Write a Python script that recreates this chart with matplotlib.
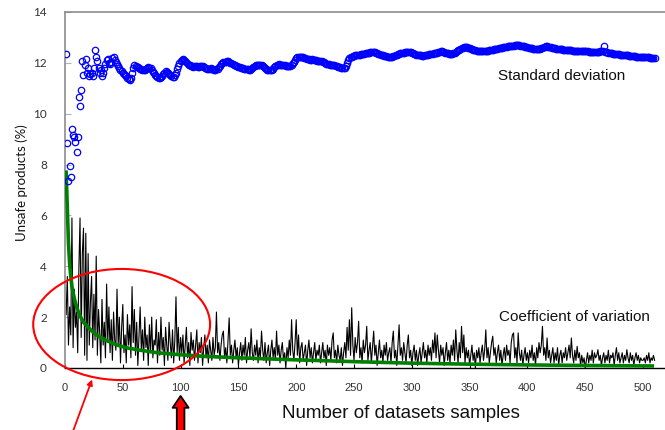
import numpy as np

import matplotlib
matplotlib.use("Agg")
import matplotlib.pyplot as plt
from matplotlib.patches import Ellipse

# sample index of every point
samples = np.arange(1, 511)

# standard deviation of unsafe products (%), one value per sample
std_dev = [
    12.36, 8.83, 7.35, 7.93, 7.53, 9.40, 9.17, 9.10, 8.87, 8.50,
    9.10, 10.64, 10.29, 10.94, 12.06, 11.52, 11.90, 12.15, 11.60, 11.80,
    11.50, 11.55, 11.62, 11.50, 11.80, 12.50, 12.25, 12.06, 11.80, 11.62,
    11.70, 11.50, 11.62, 11.80, 11.95, 12.10, 12.15, 12.00, 11.95, 12.05,
    12.18, 12.23, 12.10, 12.05, 11.95, 11.86, 11.80, 11.72, 11.67, 11.62,
    11.58, 11.54, 11.48, 11.42, 11.38, 11.34, 11.40, 11.60, 11.80, 11.93,
    11.88, 11.85, 11.82, 11.80, 11.76, 11.74, 11.72, 11.70, 11.72, 11.76,
    11.80, 11.82, 11.80, 11.78, 11.72, 11.66, 11.60, 11.54, 11.50, 11.46,
    11.42, 11.40, 11.44, 11.50, 11.56, 11.62, 11.67, 11.64, 11.60, 11.56,
    11.52, 11.48, 11.44, 11.46, 11.52, 11.62, 11.75, 11.88, 11.98, 12.06,
    12.10, 12.14, 12.12, 12.08, 12.02, 11.96, 11.92, 11.90, 11.88, 11.86,
    11.84, 11.86, 11.88, 11.87, 11.85, 11.84, 11.86, 11.88, 11.86, 11.82,
    11.80, 11.78, 11.76, 11.75, 11.76, 11.78, 11.76, 11.74, 11.73, 11.73,
    11.74, 11.77, 11.82, 11.88, 11.94, 11.99, 12.02, 12.04, 12.05, 12.06,
    12.06, 12.04, 12.01, 11.98, 11.95, 11.92, 11.90, 11.88, 11.86, 11.84,
    11.82, 11.80, 11.79, 11.78, 11.77, 11.76, 11.75, 11.74, 11.73, 11.73,
    11.76, 11.80, 11.84, 11.88, 11.91, 11.93, 11.93, 11.93, 11.93, 11.91,
    11.88, 11.84, 11.80, 11.76, 11.73, 11.71, 11.70, 11.70, 11.72, 11.76,
    11.82, 11.86, 11.90, 11.93, 11.94, 11.93, 11.92, 11.93, 11.92, 11.90,
    11.88, 11.86, 11.86, 11.86, 11.87, 11.92, 11.98, 12.05, 12.12, 12.18,
    12.22, 12.24, 12.25, 12.25, 12.24, 12.22, 12.20, 12.18, 12.16, 12.15,
    12.14, 12.13, 12.13, 12.14, 12.13, 12.12, 12.10, 12.09, 12.08, 12.07,
    12.06, 12.06, 12.05, 12.02, 11.99, 11.97, 11.95, 11.94, 11.93, 11.93,
    11.93, 11.92, 11.90, 11.88, 11.86, 11.84, 11.83, 11.82, 11.81, 11.80,
    11.80, 11.80, 11.86, 11.98, 12.10, 12.18, 12.23, 12.25, 12.27, 12.28,
    12.29, 12.30, 12.31, 12.32, 12.32, 12.33, 12.34, 12.35, 12.36, 12.37,
    12.38, 12.39, 12.40, 12.41, 12.41, 12.41, 12.41, 12.41, 12.40, 12.38,
    12.36, 12.34, 12.32, 12.30, 12.29, 12.28, 12.27, 12.26, 12.25, 12.25,
    12.25, 12.25, 12.25, 12.26, 12.28, 12.30, 12.32, 12.34, 12.36, 12.37,
    12.38, 12.39, 12.40, 12.41, 12.42, 12.43, 12.43, 12.43, 12.42, 12.40,
    12.38, 12.36, 12.34, 12.32, 12.31, 12.30, 12.30, 12.29, 12.28, 12.28,
    12.29, 12.30, 12.31, 12.32, 12.33, 12.34, 12.35, 12.36, 12.37, 12.38,
    12.39, 12.40, 12.41, 12.43, 12.45, 12.45, 12.44, 12.42, 12.40, 12.38,
    12.37, 12.36, 12.35, 12.35, 12.36, 12.38, 12.40, 12.43, 12.46, 12.49,
    12.52, 12.55, 12.58, 12.60, 12.61, 12.62, 12.62, 12.61, 12.60, 12.58,
    12.56, 12.54, 12.52, 12.50, 12.49, 12.48, 12.47, 12.46, 12.46, 12.45,
    12.45, 12.45, 12.45, 12.46, 12.47, 12.48, 12.49, 12.50, 12.51, 12.52,
    12.53, 12.54, 12.55, 12.56, 12.57, 12.58, 12.59, 12.60, 12.61, 12.62,
    12.63, 12.64, 12.65, 12.66, 12.67, 12.67, 12.68, 12.68, 12.69, 12.69,
    12.69, 12.69, 12.69, 12.68, 12.67, 12.66, 12.65, 12.64, 12.62, 12.61,
    12.60, 12.59, 12.58, 12.57, 12.56, 12.56, 12.55, 12.55, 12.55, 12.55,
    12.56, 12.58, 12.60, 12.62, 12.64, 12.65, 12.65, 12.64, 12.62, 12.61,
    12.60, 12.59, 12.58, 12.57, 12.56, 12.55, 12.54, 12.54, 12.53, 12.53,
    12.52, 12.52, 12.52, 12.52, 12.51, 12.50, 12.50, 12.49, 12.48, 12.48,
    12.47, 12.47, 12.46, 12.46, 12.46, 12.45, 12.45, 12.45, 12.45, 12.45,
    12.45, 12.45, 12.44, 12.44, 12.44, 12.44, 12.44, 12.43, 12.43, 12.43,
    12.43, 12.44, 12.45, 12.46, 12.48, 12.65, 12.43, 12.42, 12.41, 12.40,
    12.39, 12.38, 12.37, 12.36, 12.35, 12.34, 12.34, 12.33, 12.33, 12.32,
    12.32, 12.31, 12.31, 12.30, 12.30, 12.29, 12.29, 12.28, 12.28, 12.27,
    12.27, 12.26, 12.26, 12.25, 12.25, 12.25, 12.24, 12.24, 12.24, 12.23,
    12.23, 12.23, 12.22, 12.22, 12.22, 12.21, 12.21, 12.21, 12.20, 12.20,
]

# coefficient of variation (%), one value per sample
coef_var = [
    2.1, 3.6, 0.9, 2.4, 1.3, 5.9, 0.8, 3.1, 1.6, 2.2,
    0.6, 3.9, 5.9, 1.2, 4.5, 5.5, 0.5, 5.3, 0.3, 4.5,
    0.9, 2.6, 3.6, 0.8, 2.9, 1.1, 4.4, 0.5, 2.3, 1.4,
    0.2, 2.7, 0.9, 1.8, 0.4, 3.3, 1.0, 2.4, 0.6, 1.9,
    0.3, 2.2, 1.1, 0.7, 3.1, 0.9, 2.0, 0.2, 1.6, 2.5,
    0.6, 1.3, 0.2, 2.1, 0.9, 1.7, 0.4, 3.2, 1.0, 2.3,
    0.5, 1.8, 0.1, 1.2, 2.4, 0.7, 1.5, 0.3, 2.0, 0.8,
    1.3, 0.1, 1.7, 0.6, 2.0, 0.4, 1.1, 0.9, 1.9, 0.2,
    1.4, 0.5, 2.0, 0.7, 1.2, 0.1, 1.6, 0.9, 0.3, 1.8,
    1.0, 0.4, 1.5, 0.2, 1.1, 2.8, 0.6, 1.6, 0.3, 1.2,
    0.6, 1.3, 0.2, 0.9, 1.6, 0.4, 1.0, 0.1, 1.4, 0.7,
    1.1, 0.3, 0.9, 1.5, 0.2, 1.0, 0.6, 1.2, 0.1, 0.8,
    1.3, 0.4, 0.9, 0.2, 1.1, 0.7, 0.3, 1.2, 0.5, 0.8,
    2.2, 0.6, 1.0, 0.3, 0.9, 1.3, 1.45, 0.4, 0.8, 0.2,
    1.1, 1.97, 0.5, 0.9, 0.2, 0.7, 1.1, 0.4, 0.8, 0.1,
    0.6, 1.0, 0.3, 0.9, 0.5, 1.2, 0.2, 0.7, 1.0, 0.4,
    1.54, 0.6, 0.3, 0.9, 0.5, 1.1, 0.2, 0.8, 0.4, 1.45,
    0.7, 0.3, 1.0, 0.2, 0.6, 0.9, 0.1, 0.7, 1.1, 0.4,
    0.8, 0.3, 1.45, 0.5, 0.9, 0.2, 0.7, 1.0, 0.3, 0.6,
    0.0, 0.8, 0.4, 1.1, 0.5, 1.9, 0.7, 0.3, 1.0, 1.9,
    0.5, 1.3, 0.2, 0.8, 1.0, 0.3, 0.6, 0.9, 0.1, 0.7,
    1.1, 0.4, 0.8, 0.2, 0.6, 1.0, 0.3, 0.7, 0.5, 0.9,
    0.2, 0.6, 1.0, 0.4, 0.7, 0.1, 0.9, 0.5, 0.8, 0.3,
    1.1, 1.38, 0.4, 0.7, 0.2, 0.9, 0.5, 0.3, 0.8, 0.1,
    0.6, 1.0, 0.4, 1.6, 0.7, 1.9, 0.5, 2.37, 0.9, 0.3,
    1.2, 0.6, 1.0, 1.84, 0.4, 0.8, 0.2, 1.1, 0.6, 0.9,
    1.64, 0.3, 0.7, 1.0, 0.2, 0.8, 1.45, 0.5, 0.9, 0.1,
    0.6, 1.1, 0.4, 0.7, 0.2, 0.9, 0.5, 1.0, 0.3, 0.6,
    0.8, 0.2, 1.0, 1.45, 0.4, 0.7, 0.1, 0.9, 1.7, 0.5,
    0.8, 0.3, 1.0, 0.6, 0.2, 0.9, 1.3, 0.4, 0.7, 0.1,
    0.6, 0.9, 0.3, 0.7, 0.1, 0.5, 0.8, 0.2, 0.6, 1.0,
    0.4, 0.7, 0.2, 0.9, 0.5, 0.8, 0.3, 1.1, 0.6, 1.38,
    0.4, 1.3, 0.7, 0.2, 0.9, 0.5, 0.8, 0.1, 0.6, 1.0,
    0.3, 0.7, 0.2, 0.9, 0.5, 1.1, 0.3, 1.5, 0.7, 0.2,
    1.0, 0.4, 1.64, 0.6, 1.3, 0.2, 0.8, 0.4, 0.7, 0.1,
    0.5, 0.9, 0.3, 0.6, 0.0, 0.7, 0.4, 0.8, 0.2, 0.6,
    0.9, 0.3, 0.7, 1.5, 0.4, 0.8, 0.2, 0.6, 1.0, 1.25,
    0.5, 0.8, 0.2, 0.6, 0.9, 0.3, 0.7, 0.1, 0.5, 0.8,
    0.3, 0.9, 0.5, 0.7, 0.2, 1.0, 1.3, 1.38, 0.4, 0.8,
    0.2, 1.38, 0.6, 0.3, 0.7, 0.1, 0.5, 0.8, 0.3, 0.6,
    0.2, 0.7, 0.4, 0.9, 0.3, 0.6, 0.1, 0.8, 0.4, 1.0,
    0.6, 0.9, 1.64, 0.5, 0.8, 0.3, 1.18, 0.4, 0.7, 0.2,
    0.5, 0.8, 0.2, 0.6, 0.3, 0.8, 0.1, 0.5, 0.7, 0.2,
    0.6, 0.4, 0.8, 0.3, 0.6, 0.9, 0.4, 1.18, 0.5, 0.2,
    0.7, 0.3, 0.85, 0.4, 0.6, 0.1, 0.5, 0.2, 0.4, 0.0,
    0.3, 0.6, 0.2, 0.5, 0.3, 0.7, 0.2, 0.6, 0.4, 0.5,
    0.72, 0.3, 0.5, 0.1, 0.4, 0.6, 0.2, 0.5, 0.3, 0.7,
    0.2, 0.5, 0.4, 0.6, 0.1, 0.5, 0.8, 0.3, 0.6, 0.2,
    0.4, 0.6, 0.2, 0.5, 0.3, 0.72, 0.4, 0.2, 0.6, 0.3,
    0.5, 0.1, 0.4, 0.6, 0.3, 0.5, 0.2, 0.4, 0.3, 0.3,
    0.4, 0.2, 0.5, 0.3, 0.6, 0.2, 0.4, 0.3, 0.5, 0.3,
]

# fitted trend of the coefficient of variation
trend_n = [1, 2, 3, 4, 5, 6, 8, 10, 13, 16, 20, 25, 30, 35, 45, 55, 65,
           80, 100, 120, 150, 200, 250, 300, 350, 400, 450, 508]
trend_cv = [7.7, 6.3, 4.9, 4.1, 3.6, 3.2, 2.75, 2.4, 2.05, 1.8, 1.6, 1.38,
            1.22, 1.1, 0.9, 0.78, 0.7, 0.6, 0.52, 0.46, 0.40, 0.32, 0.25,
            0.19, 0.15, 0.12, 0.10, 0.08]

x_ticks = list(range(0, 501, 50))
y_ticks = list(range(0, 15, 2))

fig = plt.figure(figsize=(6.65, 4.3), dpi=100)
ax = fig.add_axes([65 / 665, 62 / 430, 600 / 665, 356 / 430])

ax.plot(samples, coef_var, color="black", linewidth=0.8, zorder=2)
ax.plot(trend_n, trend_cv, color="#008000", linewidth=2.6, zorder=3)
ax.plot(samples, std_dev, linestyle="none", marker="o", markersize=4.6,
        markerfacecolor="none", markeredgecolor="#0000ff",
        markeredgewidth=0.9, zorder=4)

ax.set_xlim(0, 519)
ax.set_ylim(0, 14)
ax.set_xticks(x_ticks)
ax.set_yticks(y_ticks)

for side in ["left", "top"]:
    ax.spines[side].set_color("#8c8c8c")
    ax.spines[side].set_linewidth(1.2)
ax.spines["right"].set_visible(False)
ax.spines["bottom"].set_color("black")
ax.spines["bottom"].set_linewidth(1.0)

ax.tick_params(axis="x", direction="in", length=3, color="black", pad=11,
               labelsize=8, labelcolor="#333333")
ax.tick_params(axis="y", direction="in", length=4, color="#a0b4d0", pad=13,
               labelsize=8.5, labelcolor="#333333")
for lab in ax.get_yticklabels():
    lab.set_fontfamily("Lato")
for lab in ax.get_xticklabels():
    lab.set_fontfamily("Liberation Sans")

ax.set_xlabel("Number of datasets samples", fontsize=13.5,
              fontfamily="Liberation Sans", color="#111111")
ax.xaxis.set_label_coords(0.56, -0.103)
ax.set_ylabel("Unsafe products (%)", fontsize=9.5, fontfamily="Lato",
              color="#111111")
ax.yaxis.set_label_coords(-0.062, 0.52)

ax.text(430, 11.5, "Standard deviation", fontsize=11, ha="center",
        va="center", fontfamily="Liberation Sans", color="#111111")
ax.text(441, 2.0, "Coefficient of variation", fontsize=11, ha="center",
        va="center", fontfamily="Liberation Sans", color="#111111")

# highlight of the first hundred samples
ax.add_patch(Ellipse((49, 1.71), 153, 4.37, fill=False, edgecolor="red",
                     linewidth=1.5, clip_on=False, zorder=5))
ax.annotate("", xy=(23.4, -0.45), xytext=(6, -2.6),
            arrowprops=dict(arrowstyle="-|>", color="red", lw=1.3,
                            mutation_scale=8, shrinkA=0, shrinkB=0),
            annotation_clip=False)
ax.annotate("", xy=(100, -1.1), xytext=(100, -2.7),
            arrowprops=dict(arrowstyle="simple,head_width=1.15,head_length=0.85,tail_width=0.55",
                            fc="red", ec="black", lw=1.3, mutation_scale=10,
                            shrinkA=0, shrinkB=0),
            annotation_clip=False)

fig.savefig("out.png", dpi=100)
plt.close(fig)
